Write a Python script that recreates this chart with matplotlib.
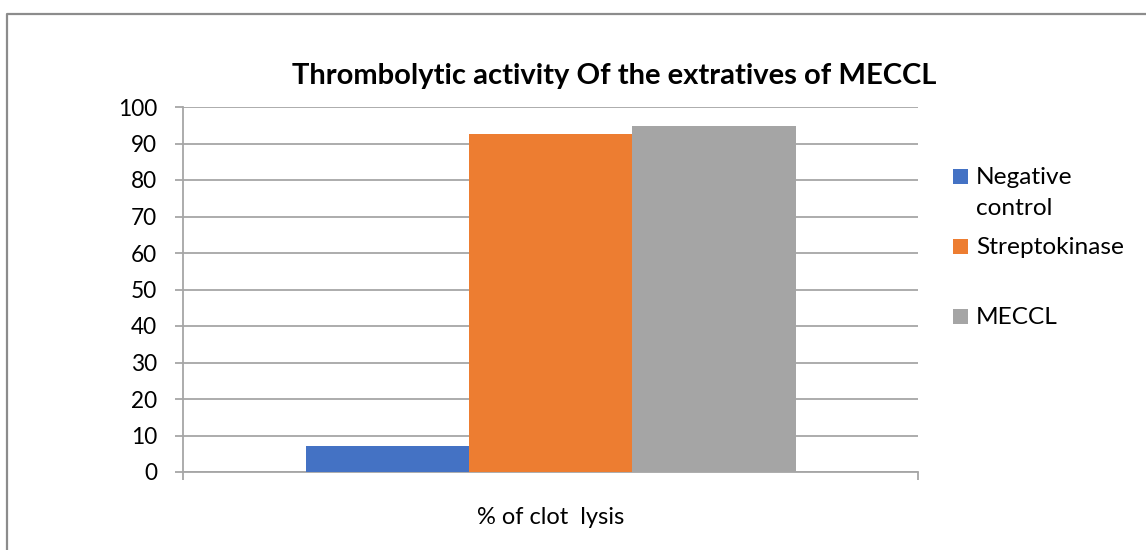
import matplotlib
matplotlib.use("Agg")
import matplotlib.pyplot as plt
from matplotlib.patches import Rectangle
from matplotlib.lines import Line2D

# ---- data ----
title = "Thrombolytic activity Of the extratives of MECCL"
category = "% of clot  lysis"
series_names = ["Negative\ncontrol", "Streptokinase", "MECCL"]
series_values = [7.1, 92.6, 94.8]
series_colors = ["#4472C4", "#ED7D31", "#A5A5A5"]
yticks = [0, 10, 20, 30, 40, 50, 60, 70, 80, 90, 100]

W, H = 1146, 550
DPI = 100
FONT = "Lato"
fig = plt.figure(figsize=(W / DPI, H / DPI), dpi=DPI)
fig.patch.set_facecolor("white")

def fx(px):
    return px / W

def fy(py):
    return 1 - py / H

GRID = "#A6A6A6"

ax = fig.add_axes([fx(183), fy(472), fx(918) - fx(183), fy(107) - fy(472)])
ax.set_xlim(-0.5, 0.5)
ax.set_ylim(0, 100)

group = 2 / 3
bw = group / len(series_values)
for i, (v, c) in enumerate(zip(series_values, series_colors)):
    ax.bar(-group / 2 + bw * (i + 0.5), v, width=bw, color=c, zorder=3, linewidth=0)

ax.set_yticks(yticks)
ax.set_yticklabels([str(t) for t in yticks], fontsize=16.3, fontfamily=FONT, color="#000000")
ax.yaxis.grid(True, color=GRID, linewidth=1.3, zorder=0)
ax.tick_params(axis="y", length=5.8, width=1.3, color=GRID, pad=13)

ax.set_xticks([0])
ax.set_xticklabels([category], fontsize=17, fontfamily=FONT, color="#000000")
ax.set_xticks([-0.5, 0.5], minor=True)
ax.tick_params(axis="x", which="major", length=0, pad=25)
ax.tick_params(axis="x", which="minor", length=5.8, width=1.3, color=GRID)

for s in ["top", "right"]:
    ax.spines[s].set_visible(False)
for s in ["left", "bottom"]:
    ax.spines[s].set_color(GRID)
    ax.spines[s].set_linewidth(1.3)
ax.set_facecolor("none")

# title
fig.text(fx(614), fy(76), title, ha="center", va="center", fontsize=21,
         fontweight="bold", fontfamily=FONT, color="#000000")

# legend (manual layout)
for i, (name, c) in enumerate(zip(series_names, series_colors)):
    cy = 176.5 + 70 * i
    fig.patches.append(Rectangle((fx(953), fy(cy + 7.5)), fx(15), fy(cy - 7.5) - fy(cy + 7.5),
                                 transform=fig.transFigure, facecolor=c, edgecolor="none"))
    for k, line in enumerate(name.split("\n")):
        fig.text(fx(976), fy(cy + 7.5 + 31 * k), line, ha="left", va="baseline", fontsize=17.6,
                 fontfamily=FONT, color="#000000")

# outer border (left and top visible)
fig.lines.append(Line2D([fx(7), fx(7), 1.0], [0.0, fy(14), fy(14)],
                        transform=fig.transFigure, color="#8C8C8C", linewidth=1.6))

fig.savefig("out.png", dpi=DPI, facecolor="white")
